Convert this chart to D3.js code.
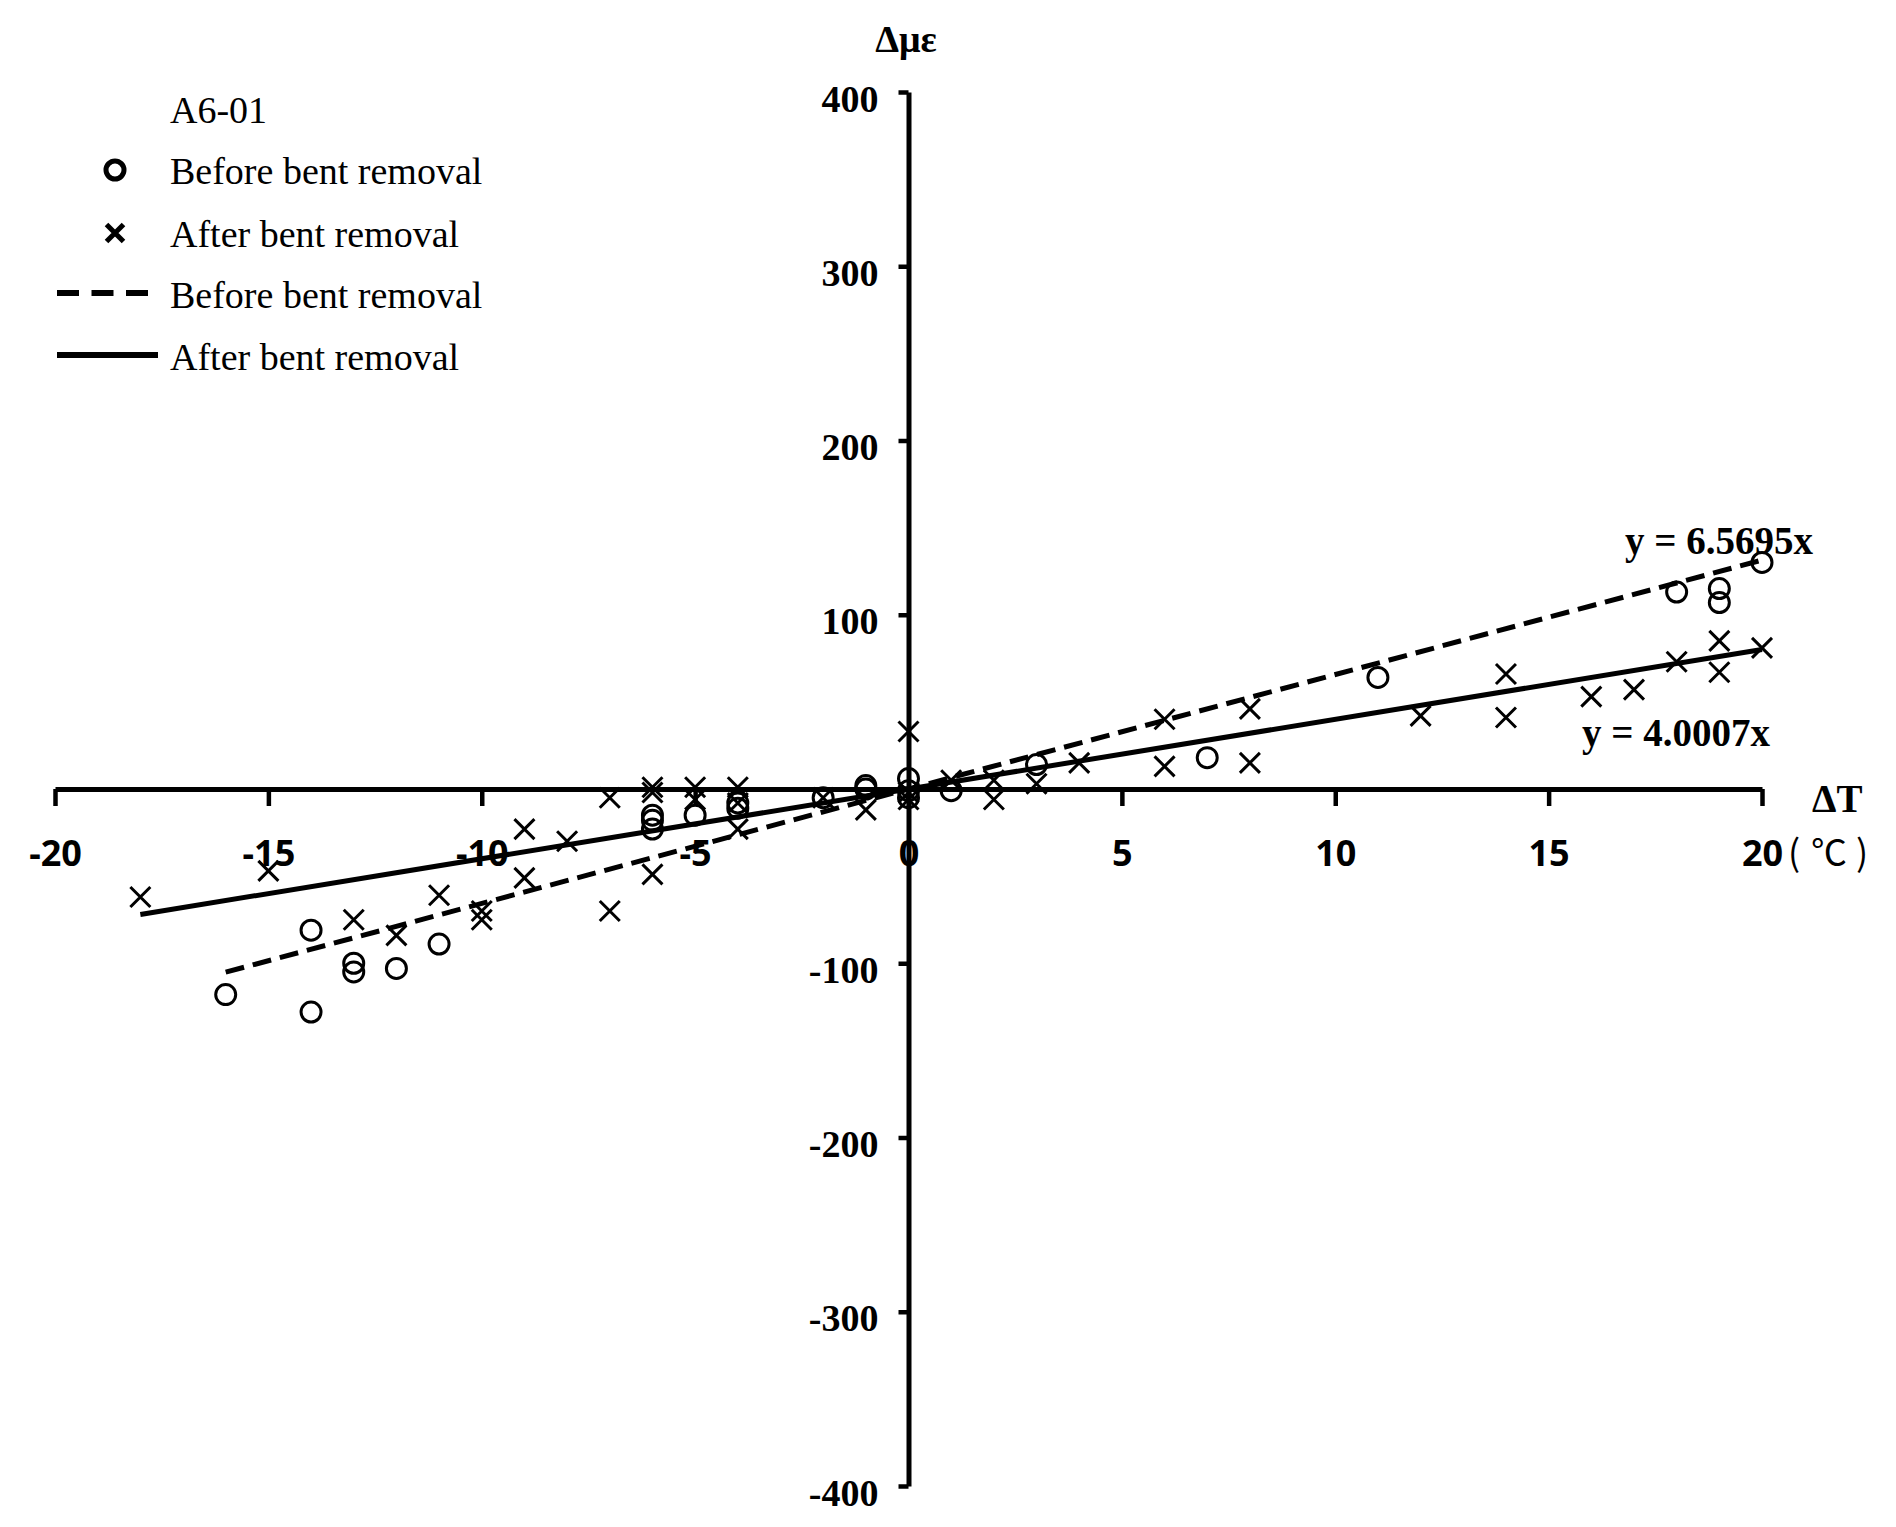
<!DOCTYPE html>
<html>
<head>
<meta charset="utf-8">
<script src="https://cdn.jsdelivr.net/npm/d3@7"></script>
<style>
  body { margin: 0; background: #fff; }
  svg { display: block; }
  .serif { font-family: "Liberation Serif", "Times New Roman", serif; }
</style>
</head>
<body>
<script>
// measured points, before bent removal (circles)
const beforeT = [-16, -14, -14, -13, -13, -12, -11, -6, -6, -6, -5, -4, -4, -2, -1, -1, 0, 0, 0, 1, 3, 7, 11, 18, 19, 19, 20];
const beforeStrain = [-118, -81, -128, -100, -105, -103, -89, -15, -18, -23, -15, -8, -11, -5, 0, 2, 6, -1, -5, -1, 14, 18, 64, 113, 115, 107, 130];

// measured points, after bent removal (crosses)
const afterT = [-18, -15, -13, -12, -11, -10, -10, -9, -9, -8, -7, -7, -6, -6, -6, -5, -5, -4, -4, -4, -2, -1, 0, 0, 0, 1, 2, 2, 3, 4, 6, 6, 8, 8, 12, 14, 14, 16, 17, 18, 19, 19, 20];
const afterStrain = [-62, -47, -75, -84, -61, -70, -75, -23, -51, -30, -5, -70, 1, -2, -49, 1, -6, 1, -8, -23, -5, -12, 33, -2, -6, 5, 5, -6, 3, 15, 40, 13, 46, 15, 42, 66, 41, 53, 57, 73, 85, 67, 81];

// linear fits through origin
const slopeBefore = 6.5695;
const slopeAfter = 4.0007;
const fitBeforeRange = [-16, 20];
const fitAfterRange = [-18, 20];

const xTicks = [-20, -15, -10, -5, 0, 5, 10, 15, 20];
const yTicks = [-400, -300, -200, -100, 0, 100, 200, 300, 400];

const width = 1896, height = 1527;

const svg = d3.select('body').append('svg')
    .attr('width', width)
    .attr('height', height);

svg.append('rect').attr('width', width).attr('height', height).attr('fill', '#fff');

const x = d3.scaleLinear().domain([-20, 20]).range([55, 1762]);
const y = d3.scaleLinear().domain([-400, 400]).range([1486, 92]);

// x axis through the origin
const xAxis = svg.append('g')
    .attr('transform', `translate(0,${y(0)})`)
    .call(d3.axisBottom(x).tickValues(xTicks).tickSize(17).tickSizeOuter(0).tickFormat(d => String(d)));
xAxis.select('.domain').attr('stroke-width', 5);
xAxis.selectAll('.tick line').attr('stroke-width', 4.5);
xAxis.selectAll('.tick text')
    .attr('y', 77).attr('dy', 0)
    .attr('font-family', null)
    .style('font-family', '"Noto Sans", sans-serif')
    .attr('font-weight', 'bold')
    .attr('font-size', 36)
    .attr('fill', '#000');

// y axis
const yAxis = svg.append('g')
    .attr('transform', `translate(${x(0)},0)`)
    .call(d3.axisLeft(y).tickValues(yTicks).tickSize(10).tickSizeOuter(0).tickFormat(d => d === 0 ? '' : String(d)));
yAxis.select('.domain').attr('stroke-width', 5);
yAxis.selectAll('.tick line').attr('stroke-width', 4.5);
yAxis.selectAll('.tick text')
    .attr('x', -30).attr('dy', 19)
    .attr('font-family', null)
    .style('font-family', '"Liberation Serif", serif')
    .attr('font-weight', 'bold')
    .attr('font-size', 38)
    .attr('fill', '#000');

// axis titles
svg.append('text').attr('class', 'serif')
    .attr('x', 906).attr('y', 52)
    .attr('text-anchor', 'middle')
    .attr('font-weight', 'bold').attr('font-size', 38)
    .text('Δμε');
svg.append('text').attr('class', 'serif')
    .attr('x', 1812).attr('y', 812)
    .attr('font-weight', 'bold').attr('font-size', 39)
    .text('ΔT');
const unitParts = ['(', '℃', ')'];
const unitX = [1794, 1829, 1862];
svg.append('g').selectAll('text')
    .data(unitParts)
    .enter()
    .append('text')
    .attr('x', (d, i) => unitX[i]).attr('y', 866)
    .attr('text-anchor', 'middle')
    .style('font-family', '"Noto Sans CJK KR", sans-serif')
    .attr('font-size', 36)
    .text(d => d);

// fit lines
const line = d3.line().x(d => x(d[0])).y(d => y(d[1]));
svg.append('path')
    .attr('d', line(fitBeforeRange.map(t => [t, slopeBefore * t])))
    .attr('fill', 'none').attr('stroke', '#000')
    .attr('stroke-width', 5).attr('stroke-dasharray', '19,9');
svg.append('path')
    .attr('d', line(fitAfterRange.map(t => [t, slopeAfter * t])))
    .attr('fill', 'none').attr('stroke', '#000')
    .attr('stroke-width', 5);

// markers
const circleData = beforeT.map((t, i) => [t, beforeStrain[i]]);
const crossData = afterT.map((t, i) => [t, afterStrain[i]]);
const cross = s => `M${-s},${-s}L${s},${s}M${-s},${s}L${s},${-s}`;

svg.append('g').selectAll('path')
    .data(crossData)
    .enter()
    .append('path')
    .attr('transform', d => `translate(${x(d[0])},${y(d[1])})`)
    .attr('d', cross(10))
    .attr('stroke', '#000').attr('stroke-width', 3).attr('fill', 'none');

svg.append('g').selectAll('circle')
    .data(circleData)
    .enter()
    .append('circle')
    .attr('cx', d => x(d[0]))
    .attr('cy', d => y(d[1]))
    .attr('r', 10)
    .attr('fill', 'none').attr('stroke', '#000').attr('stroke-width', 3);

// equations
svg.append('text').attr('class', 'serif')
    .attr('x', 1625).attr('y', 554)
    .attr('font-weight', 'bold').attr('font-size', 39)
    .text('y = 6.5695x');
svg.append('text').attr('class', 'serif')
    .attr('x', 1582).attr('y', 746)
    .attr('font-weight', 'bold').attr('font-size', 39)
    .text('y = 4.0007x');

// legend
const legend = svg.append('g').attr('class', 'serif').attr('font-size', 38);
legend.append('text').attr('x', 170).attr('y', 123).text('A6-01');
const legendItems = ['Before bent removal', 'After bent removal', 'Before bent removal', 'After bent removal'];
const legendY = [184, 247, 308, 370];
legend.selectAll('text.item')
    .data(legendItems)
    .enter()
    .append('text')
    .attr('class', 'item')
    .attr('x', 170)
    .attr('y', (d, i) => legendY[i])
    .text(d => d);

legend.append('circle')
    .attr('cx', 115).attr('cy', legendY[0] - 14).attr('r', 9)
    .attr('fill', 'none').attr('stroke', '#000').attr('stroke-width', 5);
legend.append('path')
    .attr('transform', `translate(115,${legendY[1] - 14})`)
    .attr('d', cross(8.5))
    .attr('stroke', '#000').attr('stroke-width', 5);
legend.append('line')
    .attr('x1', 57).attr('x2', 148)
    .attr('y1', legendY[2] - 15).attr('y2', legendY[2] - 15)
    .attr('stroke', '#000').attr('stroke-width', 6)
    .attr('stroke-dasharray', '22,12.5');
legend.append('line')
    .attr('x1', 57).attr('x2', 158)
    .attr('y1', legendY[3] - 15).attr('y2', legendY[3] - 15)
    .attr('stroke', '#000').attr('stroke-width', 6);
</script>
</body>
</html>
